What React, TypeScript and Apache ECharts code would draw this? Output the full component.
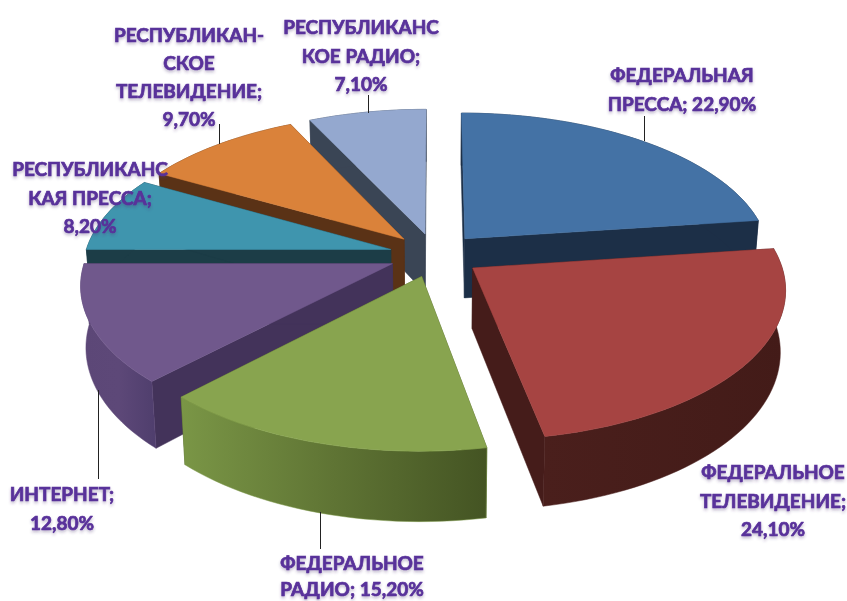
import React, { useEffect, useRef } from "react";
import * as echarts from "echarts";

const categories = [
  "Федеральная пресса",
  "Федеральное телевидение",
  "Федеральное радио",
  "Интернет",
  "Республиканская пресса",
  "Республиканское телевидение",
  "Республиканское радио",
];
const values = [22.9, 24.1, 15.2, 12.8, 8.2, 9.7, 7.1];
const labelHeads = [
  "ФЕДЕРАЛЬНАЯ\nПРЕССА; ",
  "ФЕДЕРАЛЬНОЕ\nТЕЛЕВИДЕНИЕ;\n",
  "ФЕДЕРАЛЬНОЕ\nРАДИО; ",
  "ИНТЕРНЕТ;\n",
  "РЕСПУБЛИКАНС\nКАЯ ПРЕССА;\n",
  "РЕСПУБЛИКАН-\nСКОЕ\nТЕЛЕВИДЕНИЕ;\n",
  "РЕСПУБЛИКАНС\nКОЕ РАДИО;\n",
];
const labelPos = [
  [682, 89, 28.5],
  [773, 500, 28.5],
  [352, 575, 26],
  [62, 508, 28.5],
  [90, 197, 28.5],
  [189, 76, 28],
  [361, 55, 28.5],
];
const leaders = [
  [644, 116, 141],
  null,
  [320, 512, 549],
  [98, 390, 479],
  null,
  [219, 124, 144],
  [368, 95, 113],
];
const topColors = ["#4472a5", "#a64442", "#88a44f", "#70588c", "#3f95ae", "#da823a", "#94a8cf"];
const radialColors = ["#1c2f47", "#451c1a", "#445423", "#43335a", "#1c3d47", "#5a3216", "#3a4555"];
const outerStops = [
  ["#1c2f47", "#1c2f47"],
  ["#4a1f1c", "#431b18"],
  ["#7a9646", "#5f7434", "#445423"],
  ["#5c4777", "#5d4878", "#4f3e6d"],
  ["#1c3d47", "#1c3d47"],
  ["#5a3216", "#5a3216"],
  ["#3a4555", "#3a4555"],
];
const paintOrder = [6, 0, 5, 4, 3, 1, 2];

const CX = 435;
const CY = 255;
const RX = 306;
const RY = 146;
const PERSP = 0.13;
const EXPLODE = 0.15;
const DEPTH = 60;
const BOTTOM_X = 0.985;

function project(X: number, Y: number, lower: boolean): number[] {
  const s = 1 / (1 + PERSP * Y);
  const x = RX * X * s;
  const y = -RY * Y * s;
  return lower ? [CX + x * BOTTOM_X, CY + y + DEPTH * s] : [CX + x, CY + y];
}

const total = values.reduce((a, b) => a + b, 0);

function renderSlice(params: any, api: any) {
  const idx = api.value(1);
  const start = (api.value(2) / total) * Math.PI * 2;
  const end = start + (api.value(0) / total) * Math.PI * 2;
  const mid = (start + end) / 2;
  const ox = EXPLODE * Math.sin(mid);
  const oy = EXPLODE * Math.cos(mid);
  const steps = Math.max(8, Math.round(api.value(0) * 2));
  const rimTop: number[][] = [];
  const rimLow: number[][] = [];
  for (let k = 0; k <= steps; k++) {
    const a = start + ((end - start) * k) / steps;
    const X = ox + Math.sin(a);
    const Y = oy + Math.cos(a);
    rimTop.push(project(X, Y, false));
    rimLow.push(project(X, Y, true));
  }
  const apexTop = project(ox, oy, false);
  const apexLow = project(ox, oy, true);
  const stops = outerStops[idx];
  const outerFill = new echarts.graphic.LinearGradient(
    0, 0, 1, 0,
    stops.map((c, i) => ({ offset: i / (stops.length - 1), color: c }))
  );
  const poly = (points: number[][], fill: any) => ({
    type: "polygon",
    shape: { points },
    style: { fill, stroke: fill === outerFill ? stops[0] : fill, lineWidth: 0.5 },
    silent: true,
  });
  return {
    type: "group",
    children: [
      poly([apexTop, rimTop[0], rimLow[0], apexLow], radialColors[idx]),
      poly([apexTop, rimTop[steps], rimLow[steps], apexLow], radialColors[idx]),
      poly([...rimTop, ...rimLow.slice().reverse()], outerFill),
      poly([apexTop, ...rimTop], topColors[idx]),
    ],
  };
}

function fmt(v: number) {
  return v.toFixed(2).replace(".", ",") + "%";
}

export default function App() {
  const ref = useRef<HTMLDivElement>(null);
  useEffect(() => {
    document.body.style.margin = "0";
    const chart = echarts.init(ref.current!, undefined, { renderer: "svg" });
    const cum: number[] = [];
    values.reduce((acc, v, i) => {
      cum[i] = acc;
      return acc + v;
    }, 0);
    const textEls = labelHeads.map((h, i) => ({
      type: "text",
      x: labelPos[i][0],
      y: labelPos[i][1],
      z: 20,
      style: {
        text: h + fmt(values[i]),
        fill: "#58309a",
        stroke: "#58309a",
        lineWidth: 0.7,
        font: 'bold 19px Lato, "Noto Sans", sans-serif',
        lineHeight: labelPos[i][2],
        align: "center",
        verticalAlign: "middle",
        textShadowColor: "rgba(70,50,110,0.35)",
        textShadowBlur: 3,
        textShadowOffsetY: 2,
      },
    }));
    const lineEls = leaders
      .filter((l) => l)
      .map((l) => ({
        type: "line",
        z: 10,
        shape: { x1: l![0] + 0.5, y1: l![1], x2: l![0] + 0.5, y2: l![2] },
        style: { stroke: "#222222", lineWidth: 1 },
      }));
    chart.setOption({
      animation: false,
      backgroundColor: "#ffffff",
      graphic: [...lineEls, ...textEls],
      series: [
        {
          type: "custom",
          coordinateSystem: "none",
          renderItem: renderSlice,
          silent: true,
          z: 5,
          data: paintOrder.map((i) => ({
            name: categories[i],
            value: [values[i], i, cum[i]],
          })),
        },
      ],
    });
    return () => chart.dispose();
  }, []);
  return <div ref={ref} style={{ width: 847, height: 601 }} />;
}
